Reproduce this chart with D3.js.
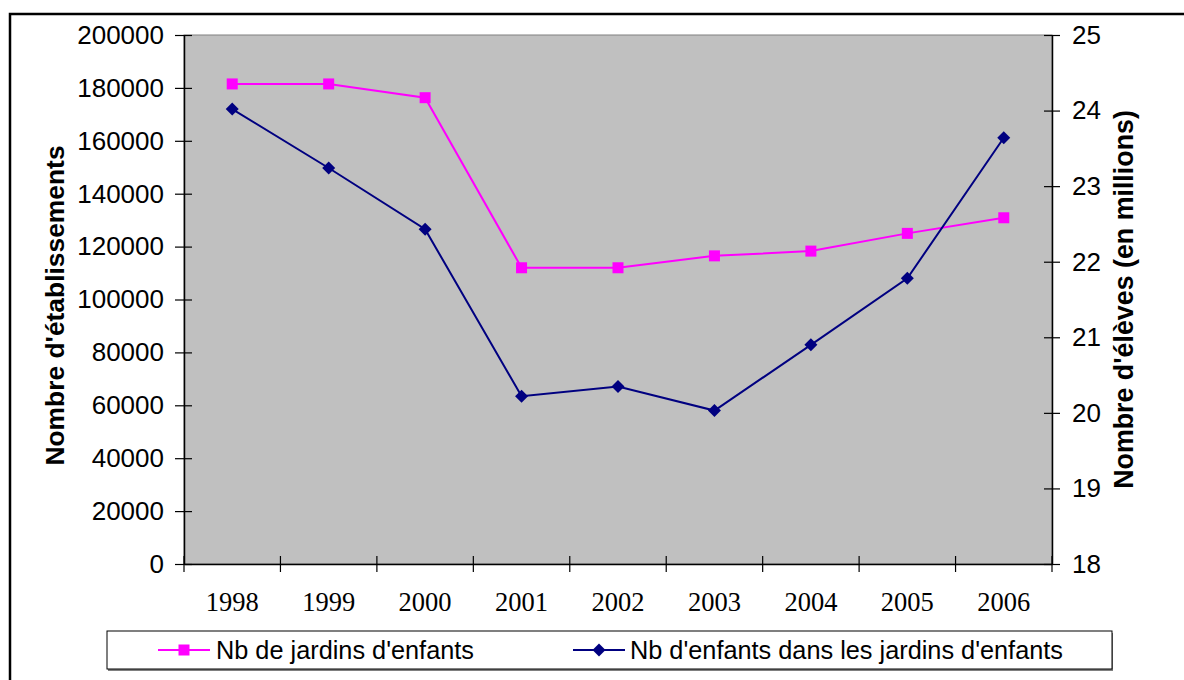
<!DOCTYPE html>
<html>
<head>
<meta charset="utf-8">
<script src="https://cdn.jsdelivr.net/npm/d3@7"></script>
<style>
  html, body { margin: 0; padding: 0; background: #fff; }
  svg { display: block; }
</style>
</head>
<body>
<svg id="chart" width="1184" height="680"></svg>
<script>
const categories = ["1998","1999","2000","2001","2002","2003","2004","2005","2006"];
const etablissements = [181500, 181500, 176300, 112000, 112000, 116500, 118300, 125000, 130900];
const eleves = [24.02, 23.24, 22.43, 20.22, 20.35, 20.03, 20.90, 21.78, 23.64];
const leftTicks = [0,20000,40000,60000,80000,100000,120000,140000,160000,180000,200000];
const rightTicks = [18,19,20,21,22,23,24,25];
const seriesNames = ["Nb de jardins d'enfants", "Nb d'enfants dans les jardins d'enfants"];
const leftTitle = "Nombre d'établissements";
const rightTitle = "Nombre d'élèves (en millions)";

const svg = d3.select("#chart");
const P = {left: 184, top: 35, right: 1052, bottom: 564};
const sans = "'Liberation Sans', Arial, sans-serif";
const serif = "'Liberation Serif', 'Times New Roman', serif";

// outer frame
svg.append("rect").attr("x", 10).attr("y", 14).attr("width", 1190).attr("height", 700)
  .attr("fill", "#fff").attr("stroke", "#000").attr("stroke-width", 2.5);

const x = d3.scaleBand().domain(categories).range([P.left, P.right]).padding(0);
const yL = d3.scaleLinear().domain([0, 200000]).range([P.bottom, P.top]);
const yR = d3.scaleLinear().domain([18, 25]).range([P.bottom, P.top]);

// plot area
svg.append("rect").attr("x", P.left).attr("y", P.top)
  .attr("width", P.right - P.left).attr("height", P.bottom - P.top)
  .attr("fill", "#c0c0c0").attr("stroke", "#808080").attr("stroke-width", 1);

// left axis
const gL = svg.append("g").attr("transform", `translate(${P.left},0)`)
  .call(d3.axisLeft(yL).tickValues(leftTicks).tickFormat(d3.format("d")).tickSizeInner(9).tickSizeOuter(0).tickPadding(11));
gL.selectAll(".tick line").attr("x1", 8).attr("stroke", "#000").attr("stroke-width", 1.2);
gL.select(".domain").attr("stroke", "#000").attr("stroke-width", 1.5);
gL.selectAll("text").attr("font-family", sans).attr("font-size", 26).attr("fill", "#000");

// right axis
const gR = svg.append("g").attr("transform", `translate(${P.right},0)`)
  .call(d3.axisRight(yR).tickValues(rightTicks).tickFormat(d3.format("d")).tickSizeInner(8).tickSizeOuter(0).tickPadding(12));
gR.selectAll(".tick line").attr("x1", -8).attr("stroke", "#000").attr("stroke-width", 1.2);
gR.select(".domain").attr("stroke", "#000").attr("stroke-width", 1.5);
gR.selectAll("text").attr("font-family", sans).attr("font-size", 26).attr("fill", "#000");

// bottom axis: labels at band centres, ticks at band boundaries
const gB = svg.append("g").attr("transform", `translate(0,${P.bottom})`)
  .call(d3.axisBottom(x).tickSize(0).tickPadding(28));
gB.select(".domain").attr("stroke", "#000").attr("stroke-width", 1.5);
gB.selectAll("text").attr("font-family", serif).attr("font-size", 26.5).attr("fill", "#000");
const bounds = categories.map(c => x(c)).concat([x(categories[categories.length-1]) + x.bandwidth()]);
gB.selectAll(".btick").data(bounds).enter().append("line")
  .attr("x1", d => d).attr("x2", d => d).attr("y1", -8).attr("y2", 8)
  .attr("stroke", "#000").attr("stroke-width", 1.2);

// axis titles
svg.append("text").attr("transform", `translate(64,${(P.top+P.bottom)/2 + 6}) rotate(-90)`)
  .attr("text-anchor", "middle").attr("font-family", sans).attr("font-weight", "bold")
  .attr("font-size", 26.4).text(leftTitle);
svg.append("text").attr("transform", `translate(1133,${(P.top+P.bottom)/2}) rotate(-90)`)
  .attr("text-anchor", "middle").attr("font-family", sans).attr("font-weight", "bold")
  .attr("font-size", 26.8).text(rightTitle);

const cx = c => x(c) + x.bandwidth() / 2;
const pink = "#ff00ff", navy = "#000080";

// pink series
const lineL = d3.line().x((d, i) => cx(categories[i])).y(d => yL(d));
svg.append("path").datum(etablissements).attr("d", lineL)
  .attr("fill", "none").attr("stroke", pink).attr("stroke-width", 2);
svg.selectAll(".sq").data(etablissements).enter().append("rect")
  .attr("x", (d, i) => cx(categories[i]) - 5.5).attr("y", d => yL(d) - 5.5)
  .attr("width", 11).attr("height", 11).attr("fill", pink);

// navy series
const lineR = d3.line().x((d, i) => cx(categories[i])).y(d => yR(d));
svg.append("path").datum(eleves).attr("d", lineR)
  .attr("fill", "none").attr("stroke", navy).attr("stroke-width", 2);
const diamond = (px, py, r) => `M${px},${py-r}L${px+r},${py}L${px},${py+r}L${px-r},${py}Z`;
svg.selectAll(".dm").data(eleves).enter().append("path")
  .attr("d", (d, i) => diamond(cx(categories[i]), yR(d), 6.5)).attr("fill", navy);

// legend
const Lg = {x: 107, y: 631, w: 1005, h: 38};
svg.append("rect").attr("x", Lg.x + 1).attr("y", Lg.y + 2).attr("width", Lg.w).attr("height", Lg.h)
  .attr("fill", "#808080");
svg.append("rect").attr("x", Lg.x).attr("y", Lg.y).attr("width", Lg.w).attr("height", Lg.h)
  .attr("fill", "#fff").attr("stroke", "#000").attr("stroke-width", 1);
const ly = Lg.y + 19;
svg.append("line").attr("x1", 158).attr("x2", 210).attr("y1", ly).attr("y2", ly)
  .attr("stroke", pink).attr("stroke-width", 2);
svg.append("rect").attr("x", 184 - 5.5).attr("y", ly - 5.5).attr("width", 11).attr("height", 11).attr("fill", pink);
svg.append("text").attr("x", 216).attr("y", ly + 9).attr("font-family", sans).attr("font-size", 25.3)
  .text(seriesNames[0]);
svg.append("line").attr("x1", 573).attr("x2", 625).attr("y1", ly).attr("y2", ly)
  .attr("stroke", navy).attr("stroke-width", 2);
svg.append("path").attr("d", diamond(599, ly, 6.5)).attr("fill", navy);
svg.append("text").attr("x", 630).attr("y", ly + 9).attr("font-family", sans).attr("font-size", 25.3)
  .text(seriesNames[1]);
</script>
</body>
</html>
